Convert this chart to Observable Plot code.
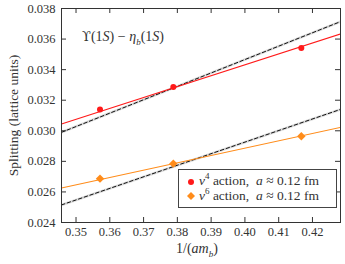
<!DOCTYPE html>
<html><head><meta charset="utf-8">
<script src="https://cdn.jsdelivr.net/npm/d3@7"></script>
<script src="https://cdn.jsdelivr.net/npm/@observablehq/plot@0.6"></script>
<style>
body{margin:0;background:#fff;}
#wrap{position:relative;width:345px;height:264px;font-family:"Liberation Serif",serif;color:#333;}
.ov{position:absolute;white-space:nowrap;}
#legend{position:absolute;left:178px;top:169px;width:157px;height:37px;border:1px solid #444;background:#fff;font-size:13.5px;}
#legend div{position:absolute;left:20px;white-space:nowrap;}
.mk{position:absolute;}
</style>
</head><body>
<div id="wrap"></div>
<script>
const xTicks = [0.35,0.36,0.37,0.38,0.39,0.40,0.41,0.42];
const yTicks = [0.024,0.026,0.028,0.030,0.032,0.034,0.036,0.038];
const invAmb = [0.3571, 0.3788, 0.4167];
const v4Split = [0.0314, 0.03287, 0.03541];
const v6Split = [0.02687, 0.02785, 0.02964];
const fitX = [0.3457, 0.4283];
const v4Fit = [0.03045, 0.03633];
const v6Fit = [0.02626, 0.03022];
const v4Dash = [0.02990, 0.03714];
const v6Dash = [0.02515, 0.03140];

const pts = (xs, ys) => xs.map((x,i)=>({x, y: ys[i]}));
const W=345,H=264,mL=61,mR=5,mT=8,mB=42;
const fw=W-mL-mR, fh=H-mT-mB;
const red="#ff1a1a", orange="#ff8c1a";

const chart = Plot.plot({
  width:W, height:H, marginLeft:mL, marginRight:mR, marginTop:mT, marginBottom:mB,
  style:{fontFamily:"'Liberation Serif', serif", fontSize:"12.5px", color:"#333", background:"#fff"},
  x:{domain:[fitX[0], fitX[1]]},
  y:{domain:[0.024,0.038]},
  marks:[
    Plot.line(pts(fitX, v4Dash), {x:"x", y:"y", stroke:"#dcdcdc", strokeWidth:2.6, clip:true}),
    Plot.line(pts(fitX, v4Dash), {x:"x", y:"y", stroke:"#111", strokeWidth:1, strokeDasharray:"3.5,2.5", clip:true}),
    Plot.line(pts(fitX, v6Dash), {x:"x", y:"y", stroke:"#dcdcdc", strokeWidth:2.6, clip:true}),
    Plot.line(pts(fitX, v6Dash), {x:"x", y:"y", stroke:"#111", strokeWidth:1, strokeDasharray:"3.5,2.5", clip:true}),
    Plot.line(pts(fitX, v4Fit), {x:"x", y:"y", stroke:red, strokeWidth:1.1, clip:true}),
    Plot.line(pts(fitX, v6Fit), {x:"x", y:"y", stroke:orange, strokeWidth:1.1, clip:true}),
    Plot.dot(pts(invAmb, v4Split), {x:"x", y:"y", r:3, fill:red, stroke:"none"}),
    Plot.dot(pts(invAmb, v6Split), {x:"x", y:"y", r:3.8, symbol:"diamond2", fill:orange, stroke:"none"}),
    Plot.ruleX(xTicks, {x:d=>d, insetTop:fh-5, stroke:"#333"}),
    Plot.ruleX(xTicks, {x:d=>d, insetBottom:fh-5, stroke:"#333"}),
    Plot.ruleY(yTicks, {y:d=>d, insetRight:fw-5, stroke:"#333"}),
    Plot.ruleY(yTicks, {y:d=>d, insetLeft:fw-5, stroke:"#333"}),
    Plot.axisX(xTicks, {tickSize:0, tickPadding:5, tickFormat:d3.format(".2f"), label:null}),
    Plot.axisY(yTicks, {tickSize:0, tickPadding:6, tickFormat:d3.format(".3f"), label:null}),
    Plot.axisY(yTicks, {tickSize:0, tickFormat:()=>"", label:"Splitting (lattice units)", labelAnchor:"center", labelArrow:"none", labelOffset:53, fontSize:13.5}),
    Plot.frame({stroke:"#333"})
  ]
});
const wrap = document.getElementById("wrap");
wrap.appendChild(chart);

const t = document.createElement("div");
t.className="ov"; t.style.left="82px"; t.style.top="29px"; t.style.fontSize="14px";
t.innerHTML = "<span style=\"font-family:'DejaVu Serif',serif;font-size:13px\">&#x3D2;</span>(1<i>S</i>) &minus; <i>&eta;</i><sub style='font-size:9px'><i>b</i></sub>(1<i>S</i>)";
wrap.appendChild(t);

const xl = document.createElement("div");
xl.className="ov"; xl.style.left="176px"; xl.style.top="241px"; xl.style.fontSize="14px";
xl.innerHTML = "1/(<i>am</i><sub style='font-size:9px'><i>b</i></sub>)";
wrap.appendChild(xl);

const lg = document.createElement("div");
lg.id="legend";
lg.innerHTML = `
<svg class="mk" style="left:7px;top:7px" width="10" height="10"><circle cx="5" cy="5" r="3" fill="${red}"/></svg>
<div style="top:1px"><i>v</i><sup style="font-size:9px">4</sup> action,&nbsp; <i>a</i> &asymp; 0.12 fm</div>
<svg class="mk" style="left:6px;top:20px" width="12" height="12"><path d="M6 2 L10 6 L6 10 L2 6 Z" fill="${orange}"/></svg>
<div style="top:16px"><i>v</i><sup style="font-size:9px">6</sup> action,&nbsp; <i>a</i> &asymp; 0.12 fm</div>`;
wrap.appendChild(lg);
</script>
</body></html>
